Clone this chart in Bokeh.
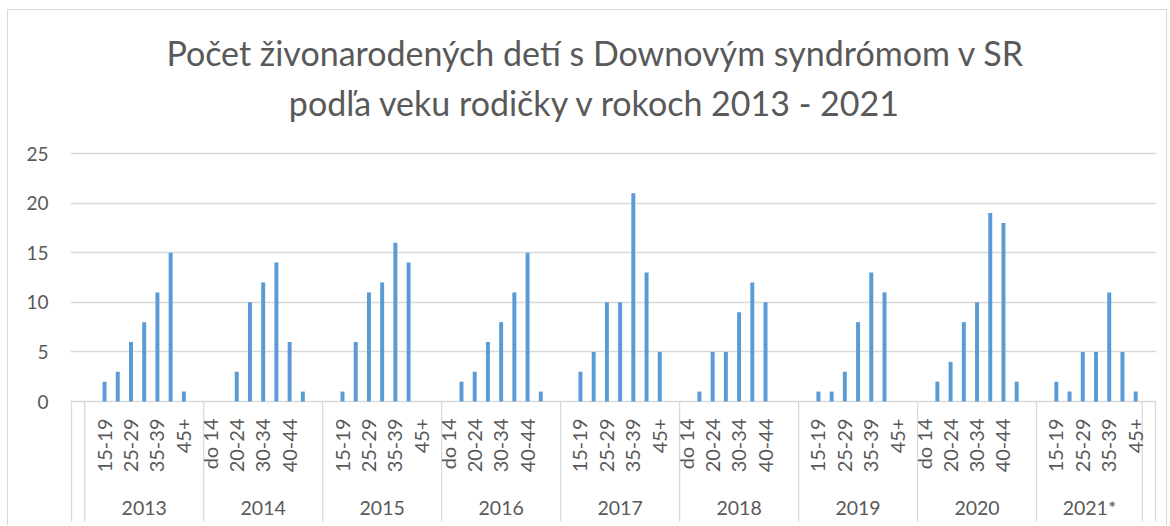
import math
from bokeh.plotting import figure
from bokeh.models import Range1d, FixedTicker
from bokeh.core.properties import value
from bokeh.embed import file_html
from bokeh.resources import INLINE

# ---------------- data ----------------
years = ["2013", "2014", "2015", "2016", "2017", "2018", "2019", "2020", "2021*"]
ages = ["do 14", "15-19", "20-24", "25-29", "30-34", "35-39", "40-44", "45+"]

v2013 = [0, 2, 3, 6, 8, 11, 15, 1]
v2014 = [0, 0, 3, 10, 12, 14, 6, 1]
v2015 = [0, 1, 6, 11, 12, 16, 14, 0]
v2016 = [0, 2, 3, 6, 8, 11, 15, 1]
v2017 = [0, 3, 5, 10, 10, 21, 13, 5]
v2018 = [0, 1, 5, 5, 9, 12, 10, 0]
v2019 = [0, 1, 1, 3, 8, 13, 11, 0]
v2020 = [0, 2, 4, 8, 10, 19, 18, 2]
v2021 = [0, 2, 1, 5, 5, 11, 5, 1]
series = [v2013, v2014, v2015, v2016, v2017, v2018, v2019, v2020, v2021]

title_lines = ["Počet živonarodených detí s Downovým syndrómom v SR",
               "podľa veku rodičky v rokoch 2013 - 2021"]
y_ticks = [0, 5, 10, 15, 20, 25]

# ---------------- layout constants ----------------
FONT = "Lato"
GREY = "#595959"
LINE = "#d9d9d9"
BAR = "#5b9bd5"

# figure placed inside a thin grey chart border (CSS), canvas starts at page (8, 10)
CANVAS_X, CANVAS_Y = 8, 10
W, H = 1160, 516
FRAME_L_PAGE, FRAME_R_PAGE = 70, 1156
ZERO_PAGE, TOP_TICK_PAGE = 401, 153
PX_PER_UNIT = (ZERO_PAGE - TOP_TICK_PAGE) / 25.0
y_end = (ZERO_PAGE - CANVAS_Y) / PX_PER_UNIT
y_start = -((CANVAS_Y + H) - ZERO_PAGE) / PX_PER_UNIT


def page_y(py):
    """page pixel row -> data y"""
    return (ZERO_PAGE - py) / PX_PER_UNIT


slots_per_year = len(ages) + 1
n_slots = 1 + slots_per_year * (len(years) - 1) + len(ages) + 1

bx, btop, lab_x, lab_t = [], [], [], []
for i, vals in enumerate(series):
    base = 1 + slots_per_year * i
    for j, (a, v) in enumerate(zip(ages, vals)):
        g = base + j
        bx.append(g + 0.5)
        btop.append(v)
        if g % 2 == 0:
            lab_x.append(g + 0.5)
            lab_t.append(a)

bounds = [0, 1] + [1 + slots_per_year * i for i in range(1, len(years))]
last_end = 1 + slots_per_year * (len(years) - 1) + len(ages)
bounds += [last_end, n_slots]
year_x = []
for i in range(len(years)):
    s = 1 + slots_per_year * i
    e = s + slots_per_year if i < len(years) - 1 else last_end
    year_x.append((s + e) / 2)

frame_w = FRAME_R_PAGE - FRAME_L_PAGE
px_per_slot = 1084 / n_slots
pad = (frame_w - 1084) / 2 / px_per_slot

p = figure(width=W, height=H, output_backend="svg", toolbar_location=None,
           x_range=Range1d(-pad, n_slots + pad), y_range=Range1d(y_start, y_end),
           min_border_left=FRAME_L_PAGE - CANVAS_X,
           min_border_right=(CANVAS_X + W) - FRAME_R_PAGE,
           min_border_top=0, min_border_bottom=0,
           margin=(9, 0, 0, 7),
           styles={"border-left": "1px solid #d9d9d9",
                   "border-top": "1px solid #d9d9d9",
                   "border-right": "1px solid #d9d9d9"})
p.title = None
p.xaxis.visible = False
p.xgrid.visible = False
p.outline_line_color = None
p.background_fill_color = "white"
p.border_fill_color = "white"

yax = p.yaxis[0]
yax.ticker = FixedTicker(ticks=y_ticks)
yax.axis_line_color = None
yax.major_tick_line_color = None
yax.minor_tick_line_color = None
yax.major_tick_out = 0
yax.major_tick_in = 0
yax.major_label_standoff = 22
yax.major_label_text_font = FONT
yax.major_label_text_font_size = "19px"
yax.major_label_text_color = GREY

p.ygrid.ticker = FixedTicker(ticks=y_ticks)
p.ygrid.grid_line_color = LINE
p.ygrid.grid_line_width = 1.3

# bars
p.vbar(x=bx, top=btop, bottom=0, width=0.3, fill_color=BAR, line_color=None)

# category separators of the two-level axis
p.segment(x0=bounds, y0=[0] * len(bounds), x1=bounds, y1=[page_y(521)] * len(bounds),
          line_color=LINE, line_width=1.3)

# age labels (rotated)
p.text(x=lab_x, y=[page_y(418)] * len(lab_x), text=lab_t, angle=math.pi / 2,
       text_align="right", text_baseline="middle", text_font=value(FONT),
       text_font_size="20px", text_color=GREY)

# year labels
p.text(x=year_x, y=[page_y(507)] * len(year_x), text=years, text_align="center",
       text_baseline="middle", text_font=value(FONT), text_font_size="19.5px",
       text_color=GREY)

# chart title (two lines)
title_x = (595 - FRAME_L_PAGE) / px_per_slot - pad
p.text(x=[title_x, title_x], y=[page_y(52), page_y(102)], text=title_lines,
       text_align="center", text_baseline="alphabetic", text_font=value(FONT),
       text_font_size="34px", text_color=GREY)

open("out.html", "w").write(file_html(p, INLINE))
